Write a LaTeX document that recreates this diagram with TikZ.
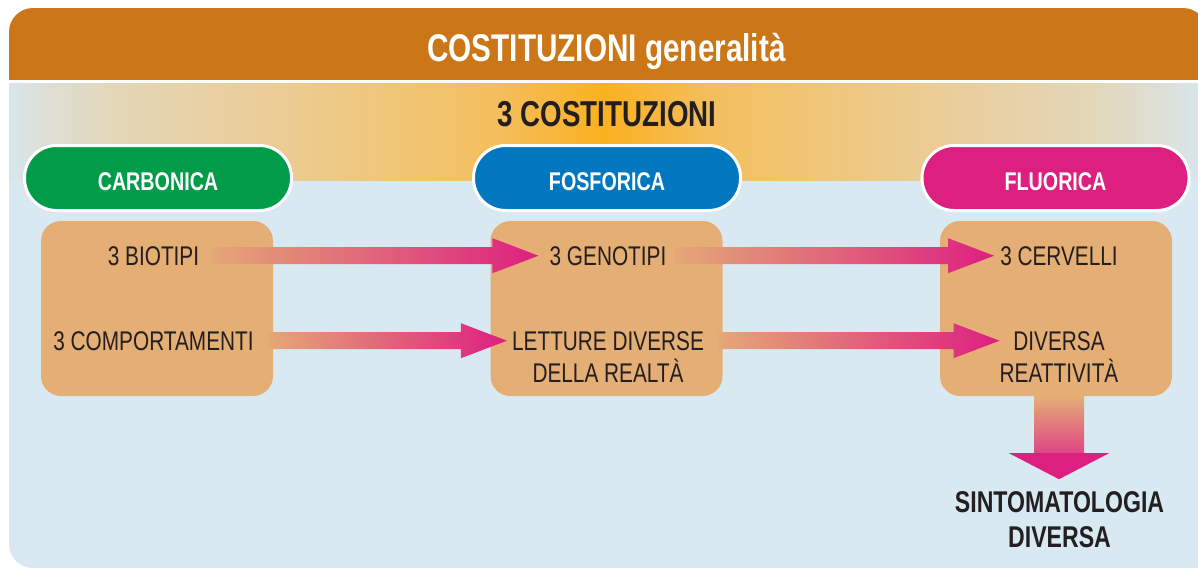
\documentclass[tikz,border=0pt]{standalone}
\usepackage{fontspec}
\setmainfont{Liberation Sans}[FakeStretch=0.77]
\usetikzlibrary{calc}
\definecolor{headorange}{HTML}{CB7717}
\definecolor{bodyblue}{HTML}{D8E9F2}
\definecolor{boxorange}{HTML}{E4AE74}
\definecolor{arrstart}{HTML}{E4A876}
\definecolor{cgreen}{HTML}{009C4A}
\definecolor{cblue}{HTML}{0077BF}
\definecolor{cmagenta}{HTML}{DD1F80}
\definecolor{shaftend}{HTML}{DE4585}
\definecolor{textdark}{HTML}{231F20}
\definecolor{bandA}{HTML}{D8E6EC}
\definecolor{bandB}{HTML}{DCE0DA}
\definecolor{bandC}{HTML}{E3D7B8}
\definecolor{bandD}{HTML}{E9CFA0}
\definecolor{bandE}{HTML}{EFC67A}
\definecolor{bandF}{HTML}{F4BE5C}
\definecolor{bandG}{HTML}{FBB020}
\pgfdeclarehorizontalshading{bandshade}{100bp}{color(0bp)=(bandA); color(25bp)=(bandA); color(26.2bp)=(bandB); color(29.5bp)=(bandC); color(34.3bp)=(bandD); color(40.7bp)=(bandE); color(45.6bp)=(bandF); color(50bp)=(bandG); color(54.4bp)=(bandF); color(59.3bp)=(bandE); color(65.7bp)=(bandD); color(70.5bp)=(bandC); color(73.8bp)=(bandB); color(75bp)=(bandA); color(100bp)=(bandA)}
\newcommand\hArrow[2]{%
  \shade[left color=arrstart, right color=cmagenta]
    let \p1=(#1), \p2=(#2) in
    (\x1,\y1+8.5pt) -- (\x2-46pt,\y1+8.5pt) -- (\x2-46pt,\y1+17.5pt) -- (\x2,\y1)
    -- (\x2-46pt,\y1-17.5pt) -- (\x2-46pt,\y1-8.5pt) -- (\x1,\y1-8.5pt) -- cycle;}
\tikzset{
  pill/.style={draw=white, line width=3pt, rounded corners=32pt, minimum width=267pt,
    minimum height=65pt, text=white, font=\bfseries\fontsize{25.6}{28}\selectfont, text height=24.3pt},
  cbox/.style={fill=boxorange, rounded corners=20pt, minimum width=232pt, minimum height=175pt},
  itxt/.style={font=\fontsize{27}{32}\selectfont, text=textdark, align=center},
}
\begin{document}
\begin{tikzpicture}[x=1pt,y=-1pt, every node/.style={inner sep=0pt}]
\useasboundingbox (0,0) rectangle (1198,568);
\fill[white] (0,0) rectangle (1198,568);
% body
\fill[bodyblue] (9,60) [rounded corners=24pt] -- (9,568) [sharp corners] -- (1207,568) -- (1207,60) -- cycle;
% header
\fill[headorange] (9,80) [rounded corners=24pt] -- (9,8) -- (1207,8) [sharp corners] -- (1207,80) -- cycle;
\fill[white] (9,80) rectangle (1207,83);
% band
\shade[shading=bandshade] (9,83) rectangle (1198,180);
% titles
\node[font=\bfseries\fontsize{38.6}{40}\selectfont, text=white, anchor=base] (title) at (606.5,61) {COSTITUZIONI generalità};
\node[font=\bfseries\fontsize{36}{38}\selectfont, text=textdark, anchor=base] (sub) at (607,126) {3 COSTITUZIONI};
% pills
\node[pill, fill=cgreen] (p1) at (158,178) {CARBONICA};
\node[pill, fill=cblue] (p2) at (607,178) {FOSFORICA};
\node[pill, fill=cmagenta] (p3) at (1055.5,178) {FLUORICA};
% boxes
\node[cbox] (b1) at (157,308.5) {};
\node[cbox] (b2) at (606.5,308.5) {};
\node[cbox] (b3) at (1056,308.5) {};
% texts
\node[itxt, anchor=base] (t11) at (153.5,265) {3 BIOTIPI};
\node[itxt, anchor=base] (t12) at (153.5,350) {3 COMPORTAMENTI};
\node[itxt, anchor=base] (t21) at (608,265) {3 GENOTIPI};
\node[itxt, anchor=north] (t22) at (608,331) {LETTURE DIVERSE\\DELLA REALTÀ};
\node[itxt, anchor=base] (t31) at (1059,265) {3 CERVELLI};
\node[itxt, anchor=north] (t32) at (1059,331) {DIVERSA\\REATTIVITÀ};
% arrows
\hArrow{$(t11.east)+(12,0)$}{$(t21.west)+(-11,0)$}
\hArrow{$(b1.east |- t12.east)+(-4,0)$}{$(t22.west |- t12.east)+(-5,0)$}
\hArrow{$(t21.east)+(9,0)$}{$(t31.west)+(-6,0)$}
\hArrow{$(b2.east |- t12.east)+(-4,0)$}{$(t32.west |- t12.east)+(0,0)$}
% vertical arrow
\coordinate (vtop) at (t32.south |- b3.south);
\shade[top color=boxorange, bottom color=shaftend] let \p1=(vtop) in
  (\x1-25pt,\y1) rectangle (\x1+25pt,\y1-57pt);
\fill[cmagenta] let \p1=(vtop) in
  (\x1+50pt,\y1-57pt) -- (\x1,\y1-83pt) -- (\x1-50pt,\y1-57pt) -- cycle;
\node[font=\bfseries\fontsize{30}{35}\selectfont, text=textdark, align=center, anchor=north] (sint) at (1059.5,491) {SINTOMATOLOGIA\\DIVERSA};
\end{tikzpicture}
\end{document}
